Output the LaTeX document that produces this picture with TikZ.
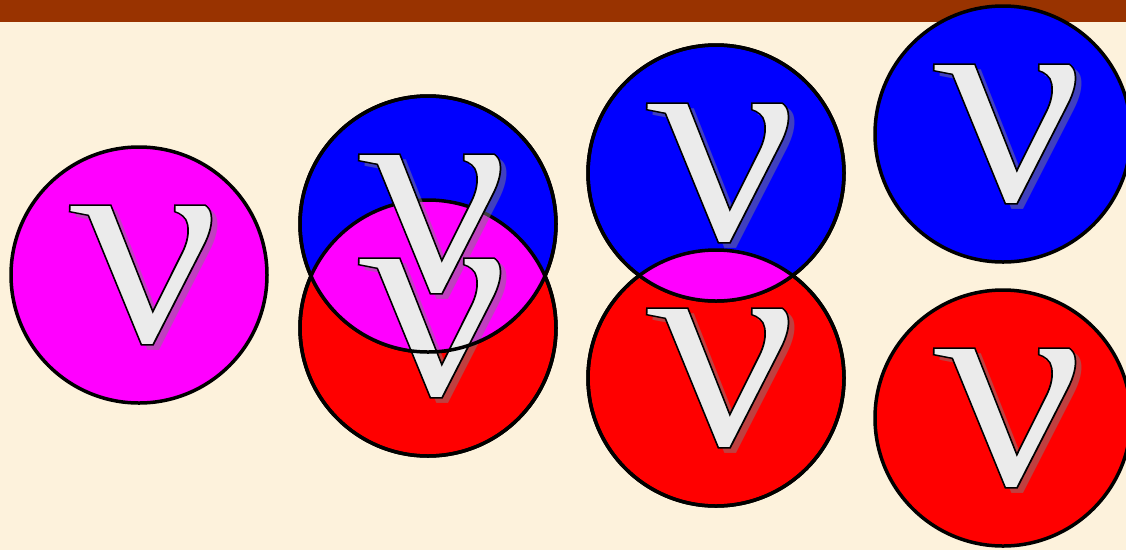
\documentclass[tikz,border=0pt]{standalone}
\usepackage{fontspec}
\newfontfamily\nufont{Liberation Serif}
\definecolor{bg}{HTML}{FDF2DC}
\definecolor{topbar}{HTML}{993300}
\definecolor{glyph}{HTML}{EBEBEB}
\definecolor{shade}{HTML}{808080}
\definecolor{pmag}{RGB}{255,0,255}
\definecolor{pred}{RGB}{255,0,0}
\definecolor{pblue}{RGB}{0,0,255}
\newcommand{\outlinedglyph}[1]{\special{pdf:literal direct 0 G 1.5 w 2 Tr}#1\special{pdf:literal direct 0 Tr}}
\tikzset{
  disc/.style={circle, minimum size=256pt, inner sep=0pt, line width=3.5pt, draw=black},
  ring/.style={line width=3.5pt, draw=black},
  nubase/.style={inner sep=0pt, outer sep=0pt, xscale=1.1, xslant=-0.16,
    font=\nufont\itshape\fontsize{298}{298}\selectfont},
  nushadow/.style={nubase, text=shade, text opacity=0.5},
  nuglyph/.style={nubase, text=glyph}
}
\begin{document}
\begin{tikzpicture}[x=1pt,y=-1pt]
\useasboundingbox (0,0) rectangle (1126,550);
\fill[bg] (0,0) rectangle (1126,550);
\fill[topbar] (0,0) rectangle (1126,22);

% pair 1
\node[disc, fill=pmag] (m1) at (139,275) {};
\node[nushadow] (s1) at ([shift={(16,6)}]m1.center) {ν};
\node[nuglyph] (n1) at ([shift={(10,0)}]m1.center) {\outlinedglyph{ν}};

% pair 2
\node[disc, fill=pred] (r2) at (428,328) {};
\node[disc, fill=pblue] (b2) at (428,224) {};
\begin{scope}
  \clip (b2.center) circle[radius=128pt];
  \fill[pmag] (r2.center) circle[radius=128pt];
\end{scope}
\draw[ring] (r2.center) circle[radius=128pt];
\node[nushadow] (sb2) at ([shift={(16,6)}]b2.center) {ν};
\node[nuglyph] (nb2) at ([shift={(10,0)}]b2.center) {\outlinedglyph{ν}};
\node[nushadow] (sr2) at ([shift={(16,6)}]r2.center) {ν};
\node[nuglyph] (nr2) at ([shift={(10,0)}]r2.center) {\outlinedglyph{ν}};
\draw[ring] (b2.center) circle[radius=128pt];

% pair 3
\node[disc, fill=pred] (r3) at (716,378) {};
\node[disc, fill=pblue] (b3) at (716,173) {};
\begin{scope}
  \clip (b3.center) circle[radius=128pt];
  \fill[pmag] (r3.center) circle[radius=128pt];
\end{scope}
\draw[ring] (r3.center) circle[radius=128pt];
\node[nushadow] (sb3) at ([shift={(16,6)}]b3.center) {ν};
\node[nuglyph] (nb3) at ([shift={(10,0)}]b3.center) {\outlinedglyph{ν}};
\node[nushadow] (sr3) at ([shift={(16,6)}]r3.center) {ν};
\node[nuglyph] (nr3) at ([shift={(10,0)}]r3.center) {\outlinedglyph{ν}};
\draw[ring] (b3.center) circle[radius=128pt];

% pair 4
\node[disc, fill=pblue] (b4) at (1003,134) {};
\node[nushadow] (sb4) at ([shift={(16,6)}]b4.center) {ν};
\node[nuglyph] (nb4) at ([shift={(10,0)}]b4.center) {\outlinedglyph{ν}};
\node[disc, fill=pred] (r4) at (1003,418) {};
\node[nushadow] (sr4) at ([shift={(16,6)}]r4.center) {ν};
\node[nuglyph] (nr4) at ([shift={(10,0)}]r4.center) {\outlinedglyph{ν}};
\end{tikzpicture}
\end{document}
